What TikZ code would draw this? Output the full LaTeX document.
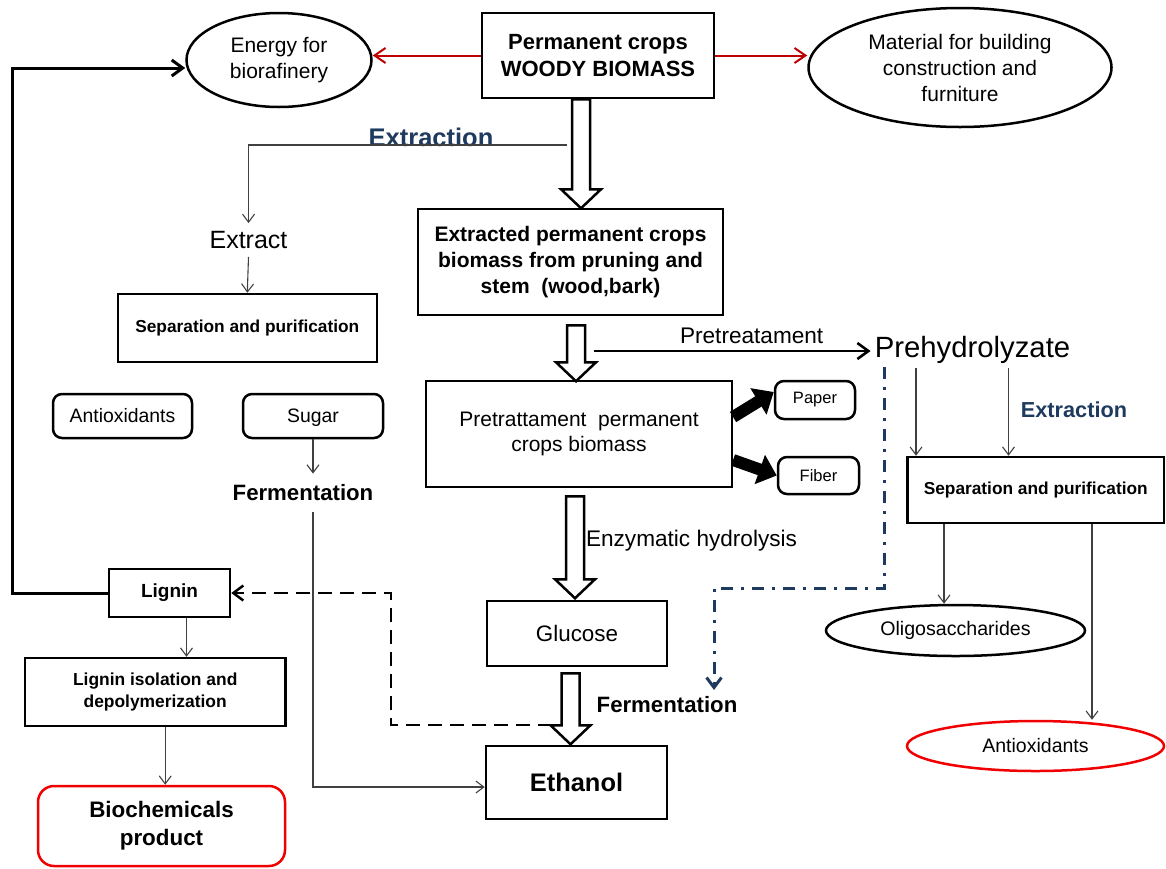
\documentclass[tikz,border=0pt]{standalone}
\usepackage{fontspec}
\setmainfont{Liberation Sans}
\usetikzlibrary{arrows.meta,shapes.geometric}
\definecolor{navy}{HTML}{1F3A5F}
\definecolor{darkred}{HTML}{C00000}
\definecolor{brightred}{HTML}{F00000}
\begin{document}
\begin{tikzpicture}[x=1pt,y=-1pt,
  box/.style={draw,line width=2.5pt,inner sep=0pt,align=center},
  rbox/.style={box,rounded corners=9pt},
  oval/.style={box,ellipse},
  lbl/.style={inner sep=0pt,align=center},
  hollow/.style={draw,fill=white,line width=2.5pt},
  thinarrow/.style={line width=1.1pt,black!75,-{Straight Barb[length=8pt,width=12pt]}},
  redarrow/.style={line width=2pt,darkred,-{Straight Barb[length=11pt,width=15pt]}},
  boldarrow/.style={line width=2.6pt,-{Straight Barb[length=11pt,width=16pt]}},
  fatarrow/.style={line width=12pt,-{Triangle[length=18pt,width=30pt]}},
  dashline/.style={line width=2.5pt,dash pattern=on 14pt off 8pt,-{Straight Barb[length=10pt,width=15pt]}},
  navyline/.style={line width=3pt,navy,dash pattern=on 12pt off 8pt on 3pt off 8pt,-{Straight Barb[length=10pt,width=15pt]}}]
\useasboundingbox (0,0) rectangle (1166,868);

\node[box,minimum width=232pt,minimum height=85pt,font=\bfseries\fontsize{22}{27}\selectfont] (top) at (598,55.5) {Permanent crops\\WOODY BIOMASS};
\node[oval,minimum width=185pt,minimum height=94pt,font=\fontsize{21}{26}\selectfont] (energy) at (279,60) {Energy for\\biorafinery};
\node[oval,minimum width=303pt,minimum height=119pt,font=\fontsize{21}{26}\selectfont] (material) at (960,67.5) {Material for building\\construction and\\furniture};
\node[lbl,navy,font=\bfseries\fontsize{25.5}{30}\selectfont] (extlbl) at (431,137) {Extraction};
\node[lbl,inner ysep=8pt,font=\fontsize{25}{30}\selectfont] (extract) at (248.5,240) {Extract};
\node[box,minimum width=259pt,minimum height=68pt,font=\bfseries\fontsize{17.3}{21}\selectfont] (seplft) at (247.3,328) {Separation and purification};
\node[rbox,minimum width=139pt,minimum height=44pt,font=\fontsize{19.4}{23}\selectfont] (antiL) at (122.5,416) {Antioxidants};
\node[rbox,minimum width=140pt,minimum height=44pt,text depth=0pt,font=\fontsize{19.4}{23}\selectfont] (sugar) at (313,416) {Sugar};
\node[lbl,inner ysep=11pt,font=\bfseries\fontsize{22.2}{27}\selectfont] (fermL) at (303,493) {Fermentation};
\node[box,minimum width=305pt,minimum height=106pt,font=\bfseries\fontsize{21}{26}\selectfont] (extr) at (570.5,262) {Extracted permanent crops\\biomass from pruning and\\stem~ (wood,bark)};
\node[box,minimum width=305.6pt,minimum height=106pt,font=\fontsize{21}{25}\selectfont] (pret) at (579,434) {Pretrattament~ permanent\\crops biomass};
\node[rbox,minimum width=80pt,minimum height=38pt,font=\fontsize{16.5}{20}\selectfont] (paper) at (815,400) {Paper};
\node[rbox,minimum width=81pt,minimum height=37pt,font=\fontsize{16.5}{20}\selectfont] (fiber) at (818.5,475.5) {Fiber};
\node[lbl,inner xsep=4pt,font=\fontsize{29.3}{35}\selectfont] (prehyd) at (972.5,350) {Prehydrolyzate};
\node[lbl,font=\fontsize{22.6}{27}\selectfont] (enzlbl) at (691.5,541) {Enzymatic hydrolysis};
\node[box,minimum width=180pt,minimum height=65pt,font=\fontsize{22.4}{27}\selectfont] (glucose) at (577,633.5) {Glucose};
\node[lbl,font=\bfseries\fontsize{22.2}{27}\selectfont] (fermR) at (667,705) {Fermentation};
\node[box,minimum width=181pt,minimum height=73pt,font=\bfseries\fontsize{25.4}{30}\selectfont] (ethanol) at (576.5,782.5) {Ethanol};
\node[box,minimum width=121pt,minimum height=48pt,font=\bfseries\fontsize{19}{23}\selectfont] (lignin) at (169.5,593) {Lignin};
\node[box,minimum width=260.4pt,minimum height=68pt,font=\bfseries\fontsize{17.4}{22}\selectfont] (liso) at (155.2,692) {Lignin isolation and\\depolymerization};
\node[rbox,draw=brightred,rounded corners=16pt,minimum width=247pt,minimum height=80pt,font=\bfseries\fontsize{22.4}{28}\selectfont] (biochem) at (161.5,826) {Biochemicals\\product};
\node[lbl,navy,font=\bfseries\fontsize{21.7}{26}\selectfont] (extlblR) at (1074,410) {Extraction};
\node[box,minimum width=256.5pt,minimum height=66pt,font=\bfseries\fontsize{17.3}{21}\selectfont] (sepR) at (1035.75,490) {Separation and purification};
\node[oval,minimum width=259pt,minimum height=51pt,font=\fontsize{19.6}{24}\selectfont] (oligo) at (955.5,630.5) {Oligosaccharides};
\node[oval,draw=brightred,minimum width=257pt,minimum height=50pt,font=\fontsize{19.5}{23}\selectfont] (antiR) at (1035.5,746) {Antioxidants};

\coordinate (h1) at ([xshift=-17pt]top.south);
\coordinate (h2) at ([xshift=5.5pt,yshift=-9pt]extr.south);
\coordinate (h3) at ([xshift=-4pt,yshift=-8pt]pret.south);
\coordinate (h4) at ([xshift=-6.5pt,yshift=-6pt]glucose.south);
\coordinate (loopc) at (12,68);
\coordinate (exsplit) at (567,145);
\coordinate (pstart) at (594,351);
\coordinate (dd0) at (884,367);
\coordinate (dd1) at (714,690);
\coordinate (dsh0) at (552,725);

\draw[hollow] (h1) ++(-9,0) -- ++(18,0) -- ++(0,90) -- ++(11,0) -- ++(-20,19) -- ++(-20,-19) -- ++(11,0) -- cycle;
\draw[hollow] (h2) ++(-9,0) -- ++(18,0) -- ++(0,37) -- ++(11,0) -- ++(-20,19) -- ++(-20,-19) -- ++(11,0) -- cycle;
\draw[hollow] (h3) ++(-9,0) -- ++(18,0) -- ++(0,83) -- ++(11,0) -- ++(-20,19) -- ++(-20,-19) -- ++(11,0) -- cycle;
\draw[hollow] (h4) ++(-9,0) -- ++(18,0) -- ++(0,52) -- ++(11,0) -- ++(-20,19) -- ++(-20,-19) -- ++(11,0) -- cycle;

\draw[redarrow] (top.west) -- (top.west -| energy.east);
\draw[redarrow] (top.east) -- (top.east -| material.west);
\draw[boldarrow,line width=3pt] (lignin.west) -| (loopc) -- ([yshift=-8pt]energy.west);
\draw[thinarrow] (exsplit) -| (extract.north);
\draw[thinarrow] (extract.south) -- (seplft.north);
\draw[thinarrow] (sugar.south) -- (sugar.south |- fermL.north);
\draw[thinarrow] (fermL.south -| sugar.south) |- ([yshift=-4.5pt]ethanol.west);
\draw[boldarrow] (pstart) -- (pstart -| prehyd.west) node[lbl,pos=0.57,above=6pt,font=\fontsize{22.6}{27}\selectfont] (pretlbl) {Pretreatament};
\draw[fatarrow] ([yshift=17pt]pret.east) -- ([yshift=8pt]paper.west);
\draw[fatarrow] ([yshift=-26pt]pret.east) -- (fiber.west);
\draw[navyline] (dd0) -- (884,588) -| (dd1);
\draw[dashline] (dsh0) -- (391,725) |- (lignin.east);
\draw[thinarrow] ([xshift=17pt]lignin.south) -- ([xshift=17pt]lignin.south |- liso.north);
\draw[thinarrow] ([xshift=10pt]liso.south) -- ([xshift=10pt]liso.south |- biochem.north);
\draw[thinarrow] ([xshift=-56.5pt,yshift=-4pt]prehyd.south) -- ([xshift=-56.5pt]prehyd.south |- sepR.north);
\draw[thinarrow] ([xshift=36pt,yshift=-4pt]prehyd.south) -- ([xshift=36pt]prehyd.south |- sepR.north);
\draw[thinarrow] ([xshift=-91.75pt]sepR.south) -- ([xshift=-91.75pt]sepR.south |- oligo.north);
\draw[thinarrow] ([xshift=56.25pt]sepR.south) -- ([xshift=56.25pt]sepR.south |- antiR.north);
\end{tikzpicture}
\end{document}
